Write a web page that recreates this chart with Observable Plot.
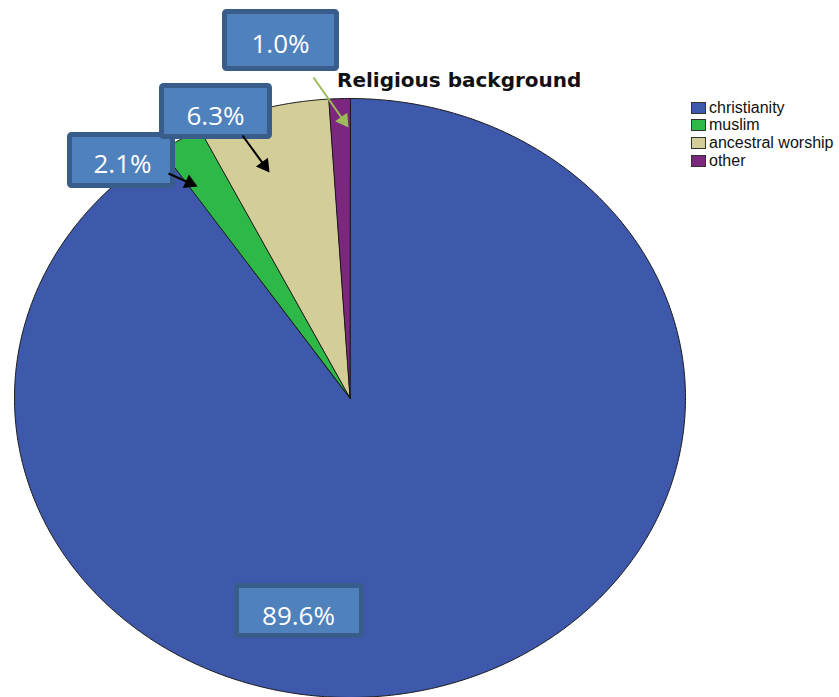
<!DOCTYPE html>
<html><head><meta charset="utf-8">
<script src="https://cdn.jsdelivr.net/npm/d3@7"></script>
<script src="https://cdn.jsdelivr.net/npm/@observablehq/plot@0.6"></script>
<style>
html,body{margin:0;padding:0;background:#fff;}
#wrap{position:relative;width:839px;height:697px;overflow:hidden;}
#chart{position:absolute;left:0;top:0;}
#title{position:absolute;left:337px;top:70px;font:bold 20px "DejaVu Sans",sans-serif;line-height:20px;color:#111;white-space:nowrap;}
#legend{position:absolute;left:691px;top:99px;font:16px "Liberation Sans",Arial,sans-serif;color:#111;}
.row{display:flex;align-items:center;height:17.6px;white-space:nowrap;}
.sw{width:13px;height:10px;border:1px solid #333;margin-right:3px;flex:none;}
</style></head><body>
<div id="wrap"><div id="chart"></div><div id="title">Religious background</div><div id="legend"></div></div>
<script>
// ---- data ----
const categories = ["christianity", "muslim", "ancestral worship", "other"];
const percents = [89.6, 2.1, 6.3, 1.0];
const labels = ["89.6%", "2.1%", "6.3%", "1.0%"];
const colors = ["#3e58ac", "#2eb848", "#d3ce97", "#7b277d"];

// ---- layout (pie drawn in a unit space, stretched into an ellipse by the scales) ----
const CX = 349.5, CY = 397.5, RX = 335.5, RY = 299.5;

// label boxes (unit space of the pie), in slice order
const boxes = [
  {label: labels[0], x1: -0.3368, x2: 0.0358, y1: -0.7947, y2: -0.6277, tx: -0.1535, ty: -0.7296},
  {label: labels[1], x1: -0.8346, x2: -0.5276, y1: 0.7079, y2: 0.8781, tx: -0.6781, ty: 0.7780},
  {label: labels[2], x1: -0.5604, x2: -0.2385, y1: 0.8715, y2: 1.0417, tx: -0.4009, ty: 0.9399},
  {label: labels[3], x1: -0.3726, x2: -0.0387, y1: 1.0985, y2: 1.2888, tx: -0.2072, ty: 1.1803}
];
const arrows = [
  {x1: -0.5410, y1: 0.7496, x2: -0.4545, y2: 0.7062, c: "#000000"},
  {x1: -0.3204, y1: 0.8765, x2: -0.2399, y2: 0.7529, c: "#000000"},
  {x1: -0.1088, y1: 1.0701, x2: -0.0045, y2: 0.9032, c: "#9bbb59"}
];

// ---- pie geometry ----
const arcs = d3.pie().sort(null).value(d => d)(percents);
const slicePts = [];
arcs.forEach((a, i) => {
  const n = Math.max(2, Math.ceil((a.endAngle - a.startAngle) / (Math.PI / 360)));
  slicePts.push({cat: categories[i], x: 0, y: 0});
  for (let k = 0; k <= n; k++) {
    const t = a.startAngle + (a.endAngle - a.startAngle) * k / n;
    slicePts.push({cat: categories[i], x: Math.sin(t), y: Math.cos(t)});
  }
});

// arrow heads
const R_HEAD = 5.5;
const tipDist = 2 * Math.sqrt((Math.PI * R_HEAD * R_HEAD) / (3 * Math.sqrt(3)));
const arrowGeo = arrows.map(a => {
  const dx = (a.x2 - a.x1) * RX, dy = -(a.y2 - a.y1) * RY;
  const len = Math.hypot(dx, dy);
  const ux = dx / len, uy = dy / len;
  const hx = a.x2 - tipDist * ux / RX, hy = a.y2 + tipDist * uy / RY;
  return {...a, hx, hy, rot: Math.atan2(dx, -dy) * 180 / Math.PI};
});

const marks = [
  Plot.line(slicePts, {x: "x", y: "y", z: "cat", fill: "cat", stroke: "#1a1a1a", strokeWidth: 1, curve: "linear-closed"}),
  Plot.rect(boxes, {x1: "x1", x2: "x2", y1: "y1", y2: "y2", fill: "#4f81bd", stroke: "#385d8a", strokeWidth: 5, rx: 2}),
  Plot.text(boxes, {x: "tx", y: "ty", text: "label", fill: "white", fontSize: 26, fontFamily: "Open Sans", textAnchor: "middle", lineAnchor: "middle"})
];
arrowGeo.forEach(a => {
  marks.push(Plot.link([a], {x1: "x1", y1: "y1", x2: "hx", y2: "hy", stroke: a.c, strokeWidth: 2}));
  marks.push(Plot.dot([a], {x: "hx", y: "hy", rotate: "rot", symbol: "triangle", r: R_HEAD, fill: a.c, stroke: "none"}));
});

const chart = Plot.plot({
  width: 839, height: 697, margin: 0,
  x: {domain: [-1, 1], range: [CX - RX, CX + RX], axis: null},
  y: {domain: [-1, 1], range: [CY + RY, CY - RY], axis: null},
  color: {domain: categories, range: colors},
  style: {background: "transparent", overflow: "visible"},
  marks
});
document.getElementById("chart").appendChild(chart);

// legend
const lg = document.getElementById("legend");
categories.forEach((c, i) => {
  const row = document.createElement("div"); row.className = "row";
  const sw = document.createElement("span"); sw.className = "sw"; sw.style.background = colors[i];
  const tx = document.createElement("span"); tx.textContent = c;
  row.appendChild(sw); row.appendChild(tx); lg.appendChild(row);
});
</script>
</body></html>
